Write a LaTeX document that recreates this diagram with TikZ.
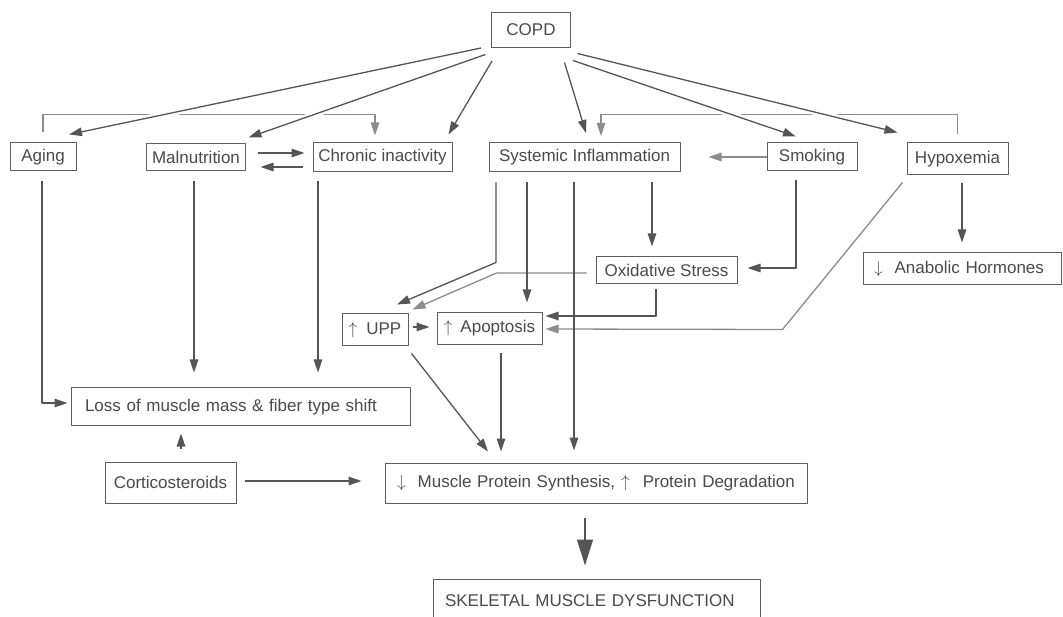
\documentclass[tikz,border=0pt]{standalone}
\usepackage{fontspec}
\setmainfont{Liberation Sans}
\usetikzlibrary{arrows.meta}

\definecolor{boxgray}{HTML}{5E5E5E}
\definecolor{txtgray}{HTML}{4A4A4A}
\definecolor{linegray}{HTML}{555555}
\definecolor{brkgray}{HTML}{8C8C8C}

\tikzset{
  box/.style={draw=boxgray, line width=1pt, text=txtgray, inner sep=0pt,
    font=\fontsize{17}{20}\selectfont},
  arr/.style={->, draw=linegray, line width=1.3pt},
  brk/.style={->, draw=brkgray, line width=1.3pt},
  gap/.style={preaction={draw=white, line width=6pt, -, shorten <=25pt, shorten >=12pt}},
}

\begin{document}
\begin{tikzpicture}[x=1pt, y=-1pt, line join=round, >={Triangle[length=13pt,width=8.5pt]}]
	\fill[white] (0,0) rectangle (1063,617);
	\useasboundingbox (0,0) rectangle (1063,617);
	% top row
	\node[box, minimum width=79pt, minimum height=35pt] (copd) at (531,30) {COPD};
	\node[box, minimum width=66pt, minimum height=28pt] (aging) at (43,157) {Aging};
	\node[box, minimum width=99pt, minimum height=27pt] (maln) at (196,157.5) {Malnutrition};
	\node[box, minimum width=139pt, minimum height=29pt] (chron) at (382.5,157.5) {Chronic inactivity};
	\node[box, minimum width=191pt, minimum height=29pt] (sysinf) at (584.5,157) {Systemic Inflammation};
	\node[box, minimum width=90pt, minimum height=28pt] (smok) at (812,157) {Smoking};
	\node[box, minimum width=101pt, minimum height=32pt] (hypox) at (957.5,159) {Hypoxemia};
	% middle
	\node[box, minimum width=141pt, minimum height=27pt] (oxid) at (666.5,270.5) {Oxidative Stress};
	\node[box, minimum width=198pt, minimum height=32pt, text width=176pt, inner xsep=11pt, align=left] (anab) at (962,269) {\(\downarrow\)\hspace{12pt}Anabolic Hormones};
	\node[box, minimum width=66pt, minimum height=32pt] (upp) at (375,330) {\(\uparrow\)\hspace{9pt}UPP};
	\node[box, minimum width=105pt, minimum height=32pt] (apop) at (489.5,328.5) {\(\uparrow\)\hspace{8pt}Apoptosis};
	% bottom
	\node[box, minimum width=339pt, minimum height=38pt, text width=311pt, inner xsep=14pt, align=left] (loss) at (240.5,407) {Loss of muscle mass \& fiber type shift};
	\node[box, minimum width=131pt, minimum height=41pt] (cort) at (170.5,482.5) {Corticosteroids};
	\node[box, minimum width=422pt, minimum height=40pt, text width=398pt, inner xsep=12pt, align=left] (mps) at (596,483) {\(\downarrow\)\hspace{12pt}Muscle Protein Synthesis,\hspace{6pt}\(\uparrow\)\hspace{13pt}Protein Degradation};
	\node[box, minimum width=327pt, minimum height=44pt, text width=303pt, inner xsep=12pt, align=left] (skel) at (596.5,601) {SKELETAL MUSCLE DYSFUNCTION};

	% brackets behind the COPD arrows
	\draw[brk] ([shift={(0,-10)}]aging.north) -- ++(0,-18) -| ([shift={(-7.5,-7)}]chron.north);
	\draw[brk] ([shift={(0,-8)}]hypox.north) -- ++(0,-20) -| ([shift={(16.5,-6)}]sysinf.north);

	% from COPD
	\draw[arr, gap] ([shift={(-10,0)}]copd.south west) -- ([shift={(26,-8)}]aging.north);
	\draw[arr, gap] ([shift={(-5.5,6.5)}]copd.south west) -- ([shift={(2.5,-6)}]maln.north east);
	\draw[arr] ([shift={(1,13)}]copd.south west) -- ([shift={(-4,-8)}]chron.north east);
	\draw[arr] ([shift={(-6.5,14.5)}]copd.south east) -- ([shift={(1.5,-9)}]sysinf.north);
	\draw[arr, gap] ([shift={(2,12.5)}]copd.south east) -- ([shift={(-16,-6)}]smok.north);
	\draw[arr, gap] ([shift={(6.5,5.5)}]copd.south east) -- ([shift={(-9,-10)}]hypox.north west);

	% top row links
	\draw[arr] ([shift={(11.5,-4.5)}]maln.east) -- ([shift={(-8,-4.5)}]chron.west);
	\draw[arr] ([shift={(-10,9.5)}]chron.west) -- ([shift={(14.5,9.5)}]maln.east);
	\draw[brk] (smok.west) -- ([shift={(28,0)}]sysinf.east);

	% middle links
	\draw[arr] ([shift={(67.5,10.5)}]sysinf.south) -- ([shift={(-14.5,-10)}]oxid.north);
	\draw[arr] ([shift={(-16,9)}]smok.south) |- ([shift={(10,-2.5)}]oxid.east);
	\draw[arr] ([shift={(4.5,8)}]hypox.south) -- ([shift={(0,-10)}]anab.north);
	\draw[arr] ([shift={(-88.5,10.5)}]sysinf.south) -- ++(0,80) -- ([shift={(22,-9)}]upp.north);
	\draw[brk] ([shift={(-9,2.5)}]oxid.west) -- ++(-90,0) -- ([shift={(4,-4)}]upp.north east);
	\draw[arr] ([shift={(-57.5,10.5)}]sysinf.south) -- ([shift={(37.5,-9.5)}]apop.north);
	\draw[arr] ([shift={(-10.5,5)}]oxid.south) |- ([shift={(3,-12.5)}]apop.east);
	\draw[brk] ([shift={(-4,7)}]hypox.south west) -- ++(-120,147) -- ([shift={(3,0.5)}]apop.east);
	\draw[arr] ([shift={(4,-3)}]upp.east) -- ([shift={(-7,-1.5)}]apop.west);

	% to muscle protein
	\draw[arr] ([shift={(-10.5,10.5)}]sysinf.south) -- ([shift={(-22,-12)}]mps.north);
	\draw[arr] ([shift={(3,7)}]upp.south east) -- ([shift={(-108,-11)}]mps.north);
	\draw[arr] ([shift={(11.5,8.5)}]apop.south) -- ([shift={(-95,-11)}]mps.north);
	\draw[arr] ([shift={(8,-1.5)}]cort.east) -- ([shift={(-23,-2)}]mps.west);
	\draw[draw=linegray, line width=1.3pt, -{Triangle[length=26pt,width=16pt]}] ([shift={(-11,14)}]mps.south) -- ([shift={(-11.5,-13)}]skel.north);

	% to loss of muscle mass
	\draw[arr] ([shift={(-1,10)}]aging.south) |- ([shift={(-3,-4)}]loss.west);
	\draw[arr] ([shift={(-2,10)}]maln.south) -- ([shift={(-46.5,-15)}]loss.north);
	\draw[arr] ([shift={(-64.5,9)}]chron.south) -- ([shift={(77.5,-15)}]loss.north);
	\draw[arr] ([shift={(10.5,-13)}]cort.north) -- ([shift={(-59.5,7)}]loss.south);
\end{tikzpicture}
\end{document}
